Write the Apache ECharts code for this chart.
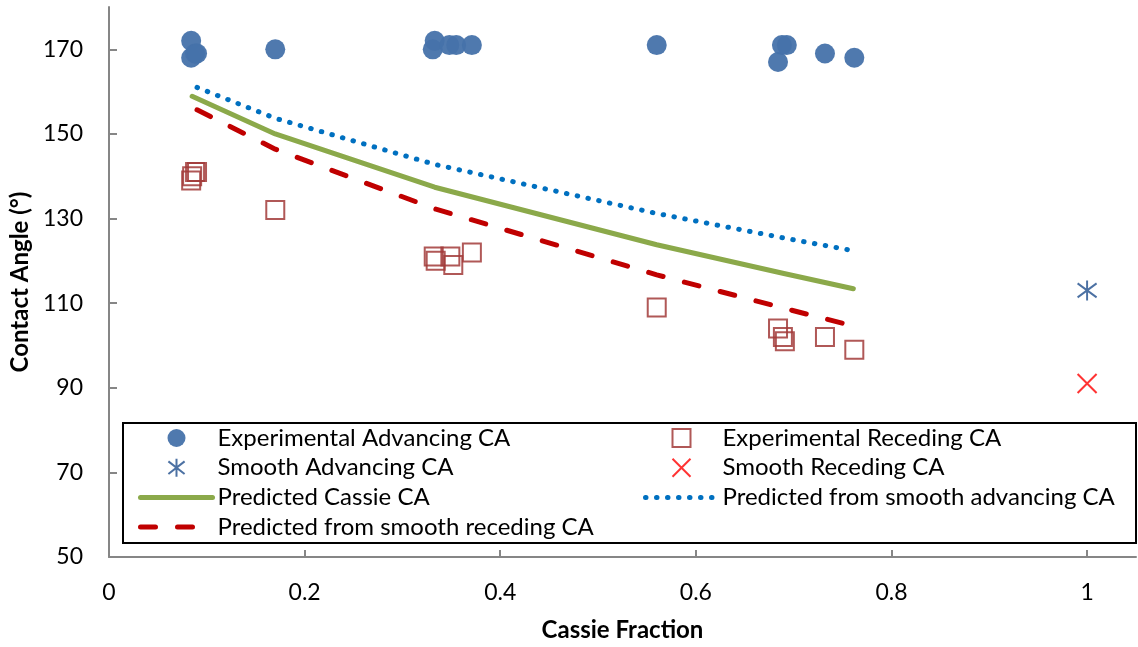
<!DOCTYPE html>
<html>
<head>
<meta charset="utf-8">
<script src="https://cdn.jsdelivr.net/npm/echarts@6/dist/echarts.min.js"></script>
<style>
  html, body { margin: 0; padding: 0; background: #fff; }
  #chart { width: 1138px; height: 647px; }
</style>
</head>
<body>
<div id="chart"></div>
<script>
// Measured contact angles (degrees) against Cassie fraction
const advancingExp = [
  [0.084, 172], [0.084, 168], [0.088, 169], [0.090, 169],
  [0.170, 170],
  [0.331, 170], [0.333, 172], [0.348, 171], [0.355, 171], [0.371, 171],
  [0.560, 171],
  [0.684, 167], [0.688, 171], [0.693, 171],
  [0.732, 169], [0.762, 168]
];
const recedingExp = [
  [0.084, 139], [0.085, 140], [0.088, 141], [0.090, 141],
  [0.170, 132],
  [0.332, 121], [0.334, 120], [0.349, 121], [0.352, 119], [0.371, 122],
  [0.560, 109],
  [0.684, 104], [0.689, 102], [0.691, 101],
  [0.732, 102], [0.762, 99]
];
const smoothAdvancing = [[1, 113]];
const smoothReceding = [[1, 91]];

// Model curves
const predictedCassie = [
  [0.085, 158.9], [0.170, 150.0], [0.333, 137.4], [0.560, 123.8], [0.690, 117.0], [0.761, 113.4]
];
const predictedFromAdvancing = [
  [0.090, 161.0], [0.170, 153.7], [0.333, 142.8], [0.560, 131.2], [0.690, 125.4], [0.761, 122.4]
];
const predictedFromReceding = [
  [0.090, 155.7], [0.170, 146.4], [0.333, 132.3], [0.560, 116.7], [0.690, 108.8], [0.761, 104.6]
];

// Axis ticks
const xTicks = [0, 0.2, 0.4, 0.6, 0.8, 1];
const yTicks = [50, 70, 90, 110, 130, 150, 170];

const FONT = 'Lato';
const axisGray = '#868686';

const GREEN = '#8BA94A';
const BLUE_DOT = '#0070C0';
const RED_DASH = '#C00000';
const SQUARE = 'path://M0,0L10,0L10,10L0,10Z';

const cassieLine = { color: GREEN, width: 5, cap: 'round', join: 'round' };
const advLine = { color: BLUE_DOT, width: 5, type: [0.5, 10.5], cap: 'round', join: 'round' };
const recLine = { color: RED_DASH, width: 5, type: [15, 22], cap: 'round', join: 'round' };

const chart = echarts.init(document.getElementById('chart'), null, { renderer: 'canvas' });

const legendText = { fontFamily: FONT, fontSize: 24, color: '#000', lineHeight: 24 };
const legendBase = {
  orient: 'vertical',
  top: 421,
  padding: 5,
  itemWidth: 72,
  itemHeight: 18,
  itemGap: 5.7,
  symbolKeepAspect: true,
  z: 5,
  textStyle: legendText
};
const hiddenSymbol = { opacity: 0 };

chart.setOption({
  animation: false,
  backgroundColor: '#fff',
  grid: { left: 109, right: 2, top: 7, bottom: 89, containLabel: false },
  xAxis: {
    type: 'value',
    min: 0,
    max: 1.05,
    name: 'Cassie Fraction',
    nameLocation: 'middle',
    nameGap: 61,
    nameTextStyle: { fontFamily: FONT, fontWeight: 'bold', fontSize: 24, color: '#000' },
    axisLine: { show: true, lineStyle: { color: axisGray, width: 2 } },
    axisTick: { show: true, inside: true, length: 7, customValues: xTicks, lineStyle: { color: axisGray, width: 2 } },
    axisLabel: { customValues: xTicks, margin: 24, fontFamily: FONT, fontSize: 23, color: '#000' },
    splitLine: { show: false }
  },
  yAxis: {
    type: 'value',
    min: 50,
    max: 180,
    name: 'Contact Angle (°)',
    nameLocation: 'middle',
    nameGap: 76,
    nameTextStyle: { fontFamily: FONT, fontWeight: 'bold', fontSize: 24, color: '#000' },
    axisLine: { show: true, lineStyle: { color: axisGray, width: 2 } },
    axisTick: { show: true, inside: true, length: 8, customValues: yTicks, lineStyle: { color: axisGray, width: 2 } },
    axisLabel: { customValues: yTicks, margin: 26, fontFamily: FONT, fontSize: 23, color: '#000' },
    splitLine: { show: false }
  },
  graphic: [{
    type: 'rect',
    z: 0,
    shape: { x: 123, y: 423, width: 1013, height: 120 },
    style: { fill: '#fff', stroke: '#000', lineWidth: 2 }
  }],
  legend: [
    Object.assign({}, legendBase, {
      left: 133,
      data: [
        'Experimental Advancing CA',
        'Smooth Advancing CA',
        { name: 'Predicted Cassie CA', itemStyle: hiddenSymbol, lineStyle: cassieLine },
        { name: 'Predicted from smooth receding CA', itemStyle: hiddenSymbol, lineStyle: recLine }
      ]
    }),
    Object.assign({}, legendBase, {
      left: 638,
      data: [
        'Experimental Receding CA',
        'Smooth Receding CA',
        { name: 'Predicted from smooth advancing CA', itemStyle: hiddenSymbol, lineStyle: advLine }
      ]
    })
  ],
  series: [
    {
      name: 'Predicted Cassie CA',
      type: 'line',
      data: predictedCassie,
      symbol: 'none',
      z: 3,
      lineStyle: cassieLine,
      itemStyle: { color: GREEN }
    },
    {
      name: 'Predicted from smooth advancing CA',
      type: 'line',
      data: predictedFromAdvancing,
      symbol: 'none',
      z: 3,
      lineStyle: advLine,
      itemStyle: { color: BLUE_DOT }
    },
    {
      name: 'Predicted from smooth receding CA',
      type: 'line',
      data: predictedFromReceding,
      symbol: 'none',
      z: 3,
      lineStyle: recLine,
      itemStyle: { color: RED_DASH }
    },
    {
      name: 'Experimental Advancing CA',
      type: 'scatter',
      data: advancingExp,
      symbol: 'circle',
      symbolSize: 20,
      z: 4,
      itemStyle: { color: '#4672AA', opacity: 0.95 }
    },
    {
      name: 'Experimental Receding CA',
      type: 'scatter',
      data: recedingExp,
      symbol: SQUARE,
      symbolKeepAspect: true,
      symbolSize: 18,
      z: 4,
      itemStyle: { color: 'rgba(0,0,0,0)', borderColor: '#A23B39', borderWidth: 2, opacity: 0.85 }
    },
    {
      name: 'Smooth Advancing CA',
      type: 'scatter',
      data: smoothAdvancing,
      symbol: 'path://M0,-10L0,10M-9,-7L9,7M-9,7L9,-7',
      symbolSize: [19, 20],
      z: 4,
      itemStyle: { color: 'none', borderColor: '#1F4E8C', borderWidth: 2 }
    },
    {
      name: 'Smooth Receding CA',
      type: 'scatter',
      data: smoothReceding,
      symbol: 'path://M-10,-10L10,10M-10,10L10,-10',
      symbolSize: [19, 19],
      z: 4,
      itemStyle: { color: 'none', borderColor: '#FF0000', borderWidth: 2 }
    }
  ]
});
</script>
</body>
</html>
